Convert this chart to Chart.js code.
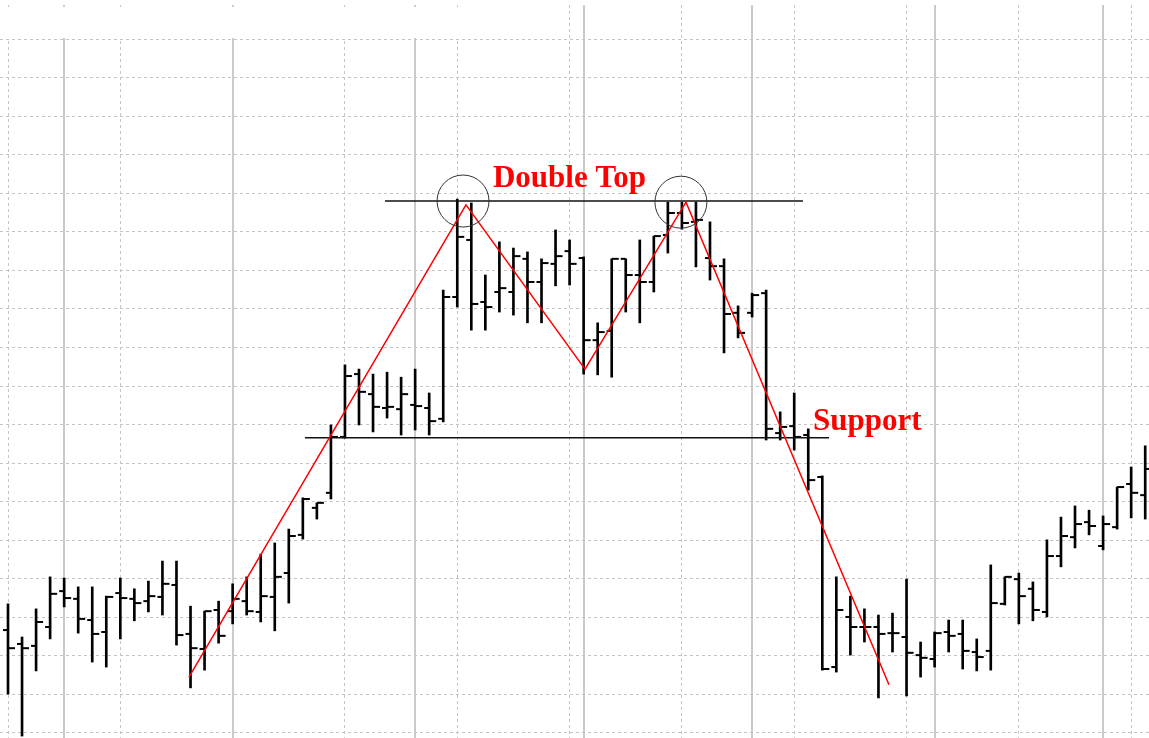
<!DOCTYPE html>
<html lang="en">
<head>
    <meta charset="UTF-8">
    <title>Double Top</title>
    <script src="https://cdn.jsdelivr.net/npm/chart.js"></script>
    <style>
        body {
            margin: 0;
            background: #fff;
        }
        .wrap {
            width: 1149px;
            height: 738px;
            position: relative;
        }
    </style>
</head>
<body>
    <div class="wrap">
        <canvas id="ohlcChart"></canvas>
    </div>

    <script>
        // daily bars, index 0..81
        const opens = [12.67, 12.31, 12.26, 12.75, 13.68, 13.48, 12.93, 12.62, 13.63, 13.48, 13.42, 13.53, 13.84, 12.57, 12.18, 13.19,
            13.16, 13.42, 13.14, 13.53, 14.15, 15.14, 15.84, 16.23, 17.68, 19.31, 18.79, 18.43, 18.40, 18.51, 18.43, 18.15,
            21.31, 22.79, 21.18, 21.44, 21.44, 22.30, 21.70, 22.17, 22.50, 22.32, 20.19, 20.43, 22.30, 21.88, 21.70, 22.92,
            23.49, 23.26, 22.32, 22.11, 20.90, 20.90, 21.41, 17.78, 17.96, 17.73, 16.64, 11.71, 13.01, 12.75, 12.75, 12.59,
            12.49, 12.02, 11.92, 12.62, 12.57, 12.10, 12.13, 13.35, 13.99, 13.74, 13.14, 14.59, 15.08, 15.47, 14.85, 15.34,
            16.46, 16.17];
        const highs = [13.35, 12.49, 13.22, 14.05, 14.02, 13.79, 13.79, 13.55, 14.02, 13.74, 13.94, 14.46, 14.46, 13.29, 13.16, 13.42,
            13.87, 14.05, 14.64, 14.93, 15.29, 16.10, 15.97, 17.99, 19.55, 19.44, 19.31, 19.36, 19.23, 19.44, 18.82, 21.49,
            23.85, 23.75, 21.88, 22.74, 22.58, 22.48, 22.30, 23.05, 22.79, 22.35, 20.64, 22.30, 22.30, 22.79, 22.89, 23.77,
            23.77, 23.77, 23.26, 22.30, 21.08, 21.41, 21.49, 18.33, 18.82, 17.89, 16.67, 14.05, 13.55, 13.22, 13.06, 13.11,
            13.99, 12.36, 12.62, 12.93, 12.93, 12.44, 14.36, 14.05, 14.15, 13.92, 15.01, 15.60, 15.89, 15.78, 15.63, 16.38,
            16.90, 17.45];
        const lows = [11.01, 9.92, 11.61, 12.44, 13.27, 12.59, 11.84, 11.71, 12.44, 12.91, 13.14, 13.06, 12.28, 11.17, 11.63, 12.33,
            12.83, 13.06, 12.88, 12.65, 13.37, 15.03, 15.55, 16.07, 17.65, 17.99, 17.81, 18.17, 17.73, 17.86, 17.73, 18.07,
            21.05, 20.45, 20.45, 20.92, 20.84, 20.64, 20.64, 21.60, 21.62, 19.31, 19.29, 19.23, 20.92, 20.64, 21.44, 22.45,
            23.07, 22.09, 21.75, 19.86, 20.25, 20.79, 17.60, 17.60, 17.34, 16.30, 11.63, 11.58, 12.02, 12.36, 10.91, 12.10,
            10.96, 11.45, 11.71, 12.10, 11.66, 11.61, 11.63, 13.32, 12.83, 12.91, 13.01, 14.31, 14.80, 15.14, 14.75, 15.29,
            15.58, 15.55];
        const closes = [12.20, 12.20, 12.88, 13.61, 13.50, 12.96, 12.57, 13.53, 13.50, 13.37, 13.55, 13.87, 12.54, 12.20, 13.16, 12.52,
            13.48, 13.16, 13.55, 14.05, 15.11, 16.07, 15.97, 17.68, 19.26, 18.85, 18.46, 18.46, 18.79, 18.48, 18.09, 21.31,
            22.87, 21.13, 21.05, 21.54, 22.37, 21.70, 22.19, 22.37, 22.17, 20.19, 20.40, 22.30, 21.88, 21.70, 22.89, 23.49,
            23.23, 23.31, 22.11, 20.87, 20.38, 21.36, 17.89, 17.94, 17.68, 16.56, 11.66, 13.19, 12.75, 12.75, 12.57, 12.59,
            12.08, 11.95, 12.59, 12.52, 12.13, 11.97, 13.37, 14.05, 13.55, 13.19, 14.59, 15.11, 15.42, 15.37, 15.42, 16.38,
            16.23, 16.85];

        // bar index where each month starts (solid separators)
        const monthStarts = [4, 16, 29, 41, 53, 66, 78];

        // red zig-zag through the pattern
        const trendX = [12.89, 32.62, 41.10, 48.29, 62.75];
        const trendY = [11.45, 23.70, 19.44, 23.77, 11.25];

        // resistance and support levels
        const topLineX = [26.85, 56.62];
        const topLevel = 23.80;
        const supportLineX = [21.15, 58.48];
        const supportLevel = 17.66;

        // the two peaks
        const peakX = [32.41, 47.93];
        const peakY = [23.80, 23.77];

        const noteTexts = ['Double Top', 'Support'];
        const noteX = [34.54, 57.34];
        const noteY = [24.16, 17.86];

        const idx = opens.map((v, i) => i);

        const hiLo = idx.map(i => ({ x: i, y: [lows[i], highs[i]] }));
        const openTicks = idx.map(i => ({ x: i - 0.18, y: opens[i] }));
        const closeTicks = idx.map(i => ({ x: i + 0.25, y: closes[i] }));
        const trend = trendX.map((x, i) => ({ x: x, y: trendY[i] }));
        const topLine = topLineX.map(x => ({ x: x, y: topLevel }));
        const supportLine = supportLineX.map(x => ({ x: x, y: supportLevel }));
        const peaks = peakX.map((x, i) => ({ x: x, y: peakY[i] }));

        // the old legend box hides the grid in the top left corner
        const legendBlank = {
            id: 'legendBlank',
            beforeDatasetsDraw(chart) {
                const ctx = chart.ctx;
                ctx.save();
                ctx.fillStyle = '#fff';
                ctx.fillRect(0, 7, 562, 31);
                ctx.restore();
            }
        };

        const notes = {
            id: 'notes',
            afterDatasetsDraw(chart) {
                const ctx = chart.ctx;
                const xs = chart.scales.x;
                const ys = chart.scales.y;
                ctx.save();
                ctx.fillStyle = '#ff0000';
                ctx.font = 'bold 31px "Liberation Serif", "Times New Roman", serif';
                ctx.textBaseline = 'alphabetic';
                noteTexts.forEach((t, i) => {
                    ctx.fillText(t, xs.getPixelForValue(noteX[i]), ys.getPixelForValue(noteY[i]));
                });
                ctx.restore();
            }
        };

        const ctx = document.getElementById('ohlcChart').getContext('2d');
        new Chart(ctx, {
            type: 'bar',
            data: {
                datasets: [
                    {
                        type: 'scatter',
                        data: peaks,
                        pointStyle: 'circle',
                        pointRadius: 26,
                        borderColor: '#333',
                        borderWidth: 1,
                        backgroundColor: 'rgba(0,0,0,0)',
                        order: 0
                    },
                    {
                        type: 'line',
                        data: trend,
                        borderColor: '#ff0000',
                        borderWidth: 1.5,
                        pointRadius: 0,
                        tension: 0,
                        order: 1
                    },
                    {
                        type: 'line',
                        data: topLine,
                        borderColor: '#111',
                        borderWidth: 1.6,
                        pointRadius: 0,
                        order: 2
                    },
                    {
                        type: 'line',
                        data: supportLine,
                        borderColor: '#111',
                        borderWidth: 1.6,
                        pointRadius: 0,
                        order: 2
                    },
                    {
                        type: 'bar',
                        data: hiLo,
                        backgroundColor: '#000',
                        borderWidth: 0,
                        borderSkipped: false,
                        barThickness: 2,
                        order: 3
                    },
                    {
                        type: 'scatter',
                        data: openTicks,
                        pointStyle: 'line',
                        pointRadius: 2.5,
                        borderColor: '#000',
                        borderWidth: 2,
                        order: 3
                    },
                    {
                        type: 'scatter',
                        data: closeTicks,
                        pointStyle: 'line',
                        pointRadius: 3.5,
                        borderColor: '#000',
                        borderWidth: 2,
                        order: 3
                    }
                ]
            },
            options: {
                responsive: true,
                maintainAspectRatio: false,
                animation: false,
                events: [],
                layout: { autoPadding: false, padding: { top: 5, left: 0, right: 0, bottom: 0 } },
                plugins: {
                    legend: { display: false },
                    tooltip: { enabled: false }
                },
                scales: {
                    x: {
                        type: 'linear',
                        min: -0.57,
                        max: 81.27,
                        offset: false,
                        ticks: { display: false, stepSize: 8, includeBounds: false },
                        grid: { offset: false, color: '#c4c4c4', lineWidth: 1, drawTicks: false },
                        border: { display: false, dash: [3, 3] }
                    },
                    months: {
                        type: 'linear',
                        position: 'bottom',
                        min: -0.57,
                        max: 81.27,
                        offset: false,
                        afterBuildTicks: scale => {
                            scale.ticks = monthStarts.map(v => ({ value: v }));
                        },
                        ticks: { display: false },
                        grid: { offset: false, color: '#cacaca', lineWidth: 2, drawTicks: false },
                        border: { display: false }
                    },
                    y: {
                        type: 'linear',
                        min: 9.87,
                        max: 28.885,
                        ticks: { display: false, stepSize: 1, includeBounds: false },
                        grid: { color: '#c4c4c4', lineWidth: 1, drawTicks: false },
                        border: { display: false, dash: [3, 3] }
                    }
                }
            },
            plugins: [legendBlank, notes]
        });
    </script>
</body>
</html>
